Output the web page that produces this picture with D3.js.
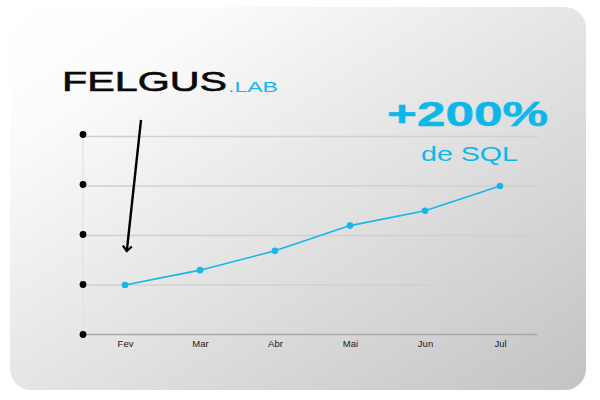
<!DOCTYPE html>
<html>
<head>
<meta charset="utf-8">
<script src="https://cdn.jsdelivr.net/npm/d3@7"></script>
<style>
  html, body { margin: 0; padding: 0; background: #ffffff; }
  svg { display: block; }
</style>
</head>
<body>
<svg id="chart" width="600" height="400"></svg>
<script>
// ---- data ----
const months = ["Fev", "Mar", "Abr", "Mai", "Jun", "Jul"];
const sqlValues = [100, 130, 169, 220, 250, 300];
const yTicks = [0, 100, 200, 300, 400];
const brandName = "FELGUS";
const brandSuffix = ".LAB";
const headline = "+200%";
const subline = "de SQL";

// ---- drawing ----
const svg = d3.select("#chart");
const defs = svg.append("defs");

const grad = defs.append("linearGradient")
  .attr("id", "cardGrad")
  .attr("x1", 0).attr("y1", 0).attr("x2", 1).attr("y2", 1);
grad.append("stop").attr("offset", "0%").attr("stop-color", "#ffffff");
grad.append("stop").attr("offset", "18%").attr("stop-color", "#fbfbfb");
grad.append("stop").attr("offset", "100%").attr("stop-color", "#c3c3c3");

defs.append("marker")
  .attr("id", "arrowHead")
  .attr("viewBox", "-6 -6 12 12")
  .attr("refX", 0).attr("refY", 0)
  .attr("markerWidth", 12).attr("markerHeight", 12)
  .attr("markerUnits", "userSpaceOnUse")
  .attr("orient", "auto")
  .append("path")
  .attr("d", "M-5,-4.5 L0,0 L-5,4.5")
  .attr("fill", "none")
  .attr("stroke", "#000")
  .attr("stroke-width", 2.2);

// card
svg.append("rect")
  .attr("x", 10).attr("y", 7)
  .attr("width", 576).attr("height", 383)
  .attr("rx", 21).attr("ry", 21)
  .attr("fill", "url(#cardGrad)");

const xLeft = 83, xRight = 538;
const x = d3.scalePoint().domain(months).range([125, 500]);
const y = d3.scaleLinear().domain([0, 400]).range([334.5, 136.5]);

// gridlines
svg.append("g").selectAll("line")
  .data(yTicks.filter(d => d > 0))
  .join("line")
  .attr("x1", xLeft).attr("x2", xRight)
  .attr("y1", d => y(d)).attr("y2", d => y(d))
  .attr("stroke", "#d0d0d0")
  .attr("stroke-width", 1.3);

// faint vertical axis
svg.append("line")
  .attr("x1", xLeft).attr("x2", xLeft)
  .attr("y1", y(400)).attr("y2", y(0))
  .attr("stroke", "#e2e2e2")
  .attr("stroke-width", 1.2);

// x axis
const xAxis = svg.append("g")
  .attr("transform", `translate(0,${y(0)})`)
  .call(d3.axisBottom(x).tickSize(0).tickPadding(6));
xAxis.select(".domain").remove();
xAxis.append("line")
  .attr("x1", xLeft).attr("x2", xRight)
  .attr("y1", 0).attr("y2", 0)
  .attr("stroke", "#a9a9a9")
  .attr("stroke-width", 1.3);
xAxis.selectAll("text")
  .attr("font-family", "'Liberation Sans', Arial, sans-serif")
  .attr("font-size", 9.5)
  .attr("fill", "#1a1a1a");

// y axis dots
svg.append("g").selectAll("circle")
  .data(yTicks)
  .join("circle")
  .attr("cx", xLeft)
  .attr("cy", d => y(d) - (d / 400) * 2)
  .attr("r", 3.4)
  .attr("fill", "#000");

// line
const lineGen = d3.line()
  .x((d, i) => x(months[i]))
  .y(d => y(d));
svg.append("path")
  .datum(sqlValues)
  .attr("d", lineGen)
  .attr("fill", "none")
  .attr("stroke", "#16b6e8")
  .attr("stroke-width", 1.6);
svg.append("g").selectAll("circle")
  .data(sqlValues)
  .join("circle")
  .attr("cx", (d, i) => x(months[i]))
  .attr("cy", d => y(d))
  .attr("r", 3.3)
  .attr("fill", "#16b6e8");

// arrow pointing to first point
svg.append("line")
  .attr("x1", 141).attr("y1", 120)
  .attr("x2", 126.8).attr("y2", 251)
  .attr("stroke", "#000")
  .attr("stroke-width", 2.4)
  .attr("marker-end", "url(#arrowHead)");

// logo
svg.append("text")
  .attr("x", 62).attr("y", 91)
  .attr("font-family", "'Liberation Sans', Arial, sans-serif")
  .attr("font-weight", 400)
  .attr("font-size", 27.5)
  .attr("textLength", 165)
  .attr("lengthAdjust", "spacingAndGlyphs")
  .attr("fill", "#0a0a0a")
  .attr("stroke", "#0a0a0a")
  .attr("stroke-width", 0.6)
  .text(brandName);
svg.append("text")
  .attr("x", 228).attr("y", 92)
  .attr("font-family", "'Liberation Sans', Arial, sans-serif")
  .attr("font-size", 14)
  .attr("textLength", 50)
  .attr("lengthAdjust", "spacingAndGlyphs")
  .attr("fill", "#16b6e8")
  .text(brandSuffix);

// headline
svg.append("text")
  .attr("x", 387).attr("y", 125.5)
  .attr("font-family", "'Liberation Sans', Arial, sans-serif")
  .attr("font-weight", 700)
  .attr("font-size", 35)
  .attr("textLength", 161)
  .attr("lengthAdjust", "spacingAndGlyphs")
  .attr("fill", "#0db7ea")
  .attr("stroke", "#0db7ea")
  .attr("stroke-width", 0.5)
  .text(headline);
svg.append("text")
  .attr("x", 421).attr("y", 161)
  .attr("font-family", "'Liberation Sans', Arial, sans-serif")
  .attr("font-weight", 400)
  .attr("font-size", 21)
  .attr("textLength", 97)
  .attr("lengthAdjust", "spacingAndGlyphs")
  .attr("fill", "#0db7ea")
  .text(subline);
</script>
</body>
</html>
